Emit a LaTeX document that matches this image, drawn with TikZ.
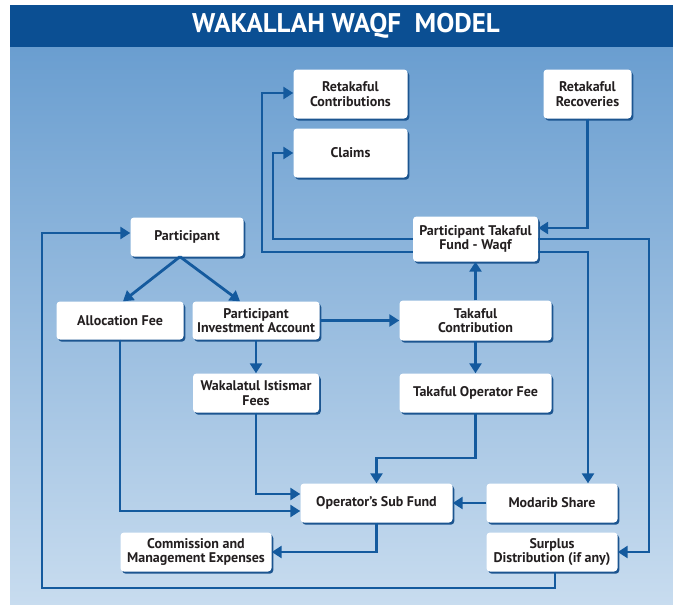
\documentclass[tikz,border=0pt]{standalone}
\usepackage{fontspec}
\setmainfont{PT Sans}
\usetikzlibrary{arrows.meta,shadows}
\definecolor{titleblue}{HTML}{0B4F93}
\definecolor{bgtop}{HTML}{6A9ED0}
\definecolor{bgbot}{HTML}{C8DCEF}
\definecolor{linecol}{HTML}{145A9E}
\definecolor{shadowcol}{HTML}{1C5590}
\definecolor{textcol}{HTML}{231F20}
\begin{document}
\begin{tikzpicture}[x=1pt,y=-1pt,
  box/.style={fill=white, rounded corners=3.5pt, align=center,
    font=\bfseries\fontsize{14}{14.5}\selectfont, text=textcol, inner sep=0pt,
    drop shadow={shadow xshift=1.8pt, shadow yshift=-2.2pt, fill=shadowcol, opacity=1}},
  conn/.style={draw=linecol, line width=2.8pt},
  arr/.style={conn, -{Triangle[length=10pt,width=12pt]}}]
\useasboundingbox (0,0) rectangle (673,605);
\fill[white] (0,0) rectangle (673,605);
\shade[top color=bgtop, bottom color=bgbot] (10,47) rectangle (673,605);
\fill[titleblue] (10,5) rectangle (673,47);
\node[font=\bfseries\fontsize{27}{27}\selectfont, text=white] (title) at (346,26) {WAKALLAH WAQF\ \ MODEL};

% boxes
\node[box, minimum width=114pt, minimum height=49pt] (RC) at (350.5,94) {Retakaful\\Contributions};
\node[box, minimum width=114pt, minimum height=49pt] (Claims) at (350.5,153) {Claims};
\node[box, minimum width=88pt, minimum height=49pt] (RR) at (587.5,94) {Retakaful\\Recoveries};
\node[box, minimum width=125pt, minimum height=45pt] (PTF) at (475.5,239) {Participant Takaful\\Fund - Waqf};
\node[box, minimum width=113pt, minimum height=39pt] (Participant) at (187,237) {Participant};
\node[box, minimum width=127pt, minimum height=38pt] (Alloc) at (120,320.5) {Allocation Fee};
\node[box, minimum width=127pt, minimum height=38pt] (PIA) at (256,320.5) {Participant\\Investment Account};
\node[box, minimum width=126pt, minimum height=39pt] (WIF) at (256,393) {Wakalatul Istismar\\Fees};
\node[box, minimum width=152pt, minimum height=40pt] (TC) at (475.5,320.5) {Takaful\\Contribution};
\node[box, minimum width=152pt, minimum height=39pt] (TOF) at (475.5,393) {Takaful Operator Fee};
\node[box, minimum width=152pt, minimum height=39pt] (OSF) at (376.5,503) {Operator’s Sub Fund};
\node[box, minimum width=131pt, minimum height=39pt] (Modarib) at (552,503) {Modarib Share};
\node[box, minimum width=151pt, minimum height=39pt] (Comm) at (196,552) {Commission and\\Management Expenses};
\node[box, minimum width=131pt, minimum height=39pt] (Surplus) at (552,552) {Surplus\\Distribution (if any)};

% connectors
\draw[arr] ([yshift=-13pt]PTF.west) -- (262,252) |- ([yshift=1pt]RC.west);
\draw[arr] (PTF.west) -- (273,239) |- (Claims.west);
\draw[arr] (RR.south) |- ([yshift=11pt]PTF.east);
\draw[arr] (PTF.east) -- (649,239) |- (Surplus.east);
\draw[arr] ([yshift=-13pt]PTF.east) -| ([xshift=36pt]Modarib.north);
\draw[arr] ([xshift=3pt]Surplus.south) -- (555,588) -| (42,233) -- ([yshift=4pt]Participant.west);
\draw[arr] ([xshift=-7pt]Participant.south) -- ([xshift=3pt]Alloc.north);
\draw[arr] ([xshift=-7pt]Participant.south) -- ([xshift=-16pt]PIA.north);
\draw[arr] (PIA.south) -- (WIF.north);
\draw[arr] (PIA.east) -- (TC.west);
\draw[arr] (TC.north) -- (PTF.south);
\draw[arr] (TC.south) -- (TOF.north);
\draw[arr] (TOF.south) -- (475.5,458) -| (OSF.north);
\draw[arr] (Alloc.south) -- (120,511) -- ([yshift=-8pt]OSF.west);
\draw[arr] (WIF.south) -- (256,494) -- ([yshift=9pt]OSF.west);
\draw[arr] (Modarib.west) -- (OSF.east);
\draw[arr] (OSF.south) |- (Comm.east);
\end{tikzpicture}
\end{document}
